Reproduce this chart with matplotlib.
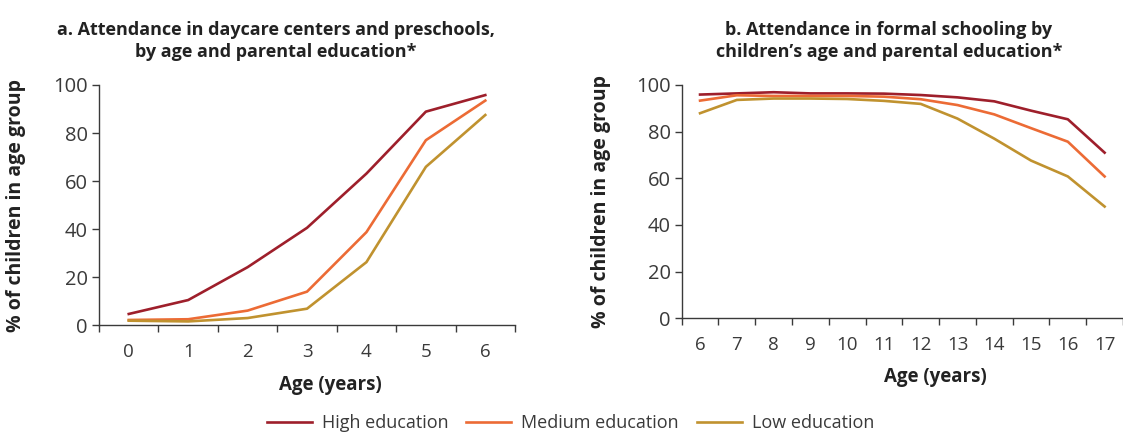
import numpy as np
import matplotlib
matplotlib.use("Agg")
import matplotlib.pyplot as plt
from matplotlib.lines import Line2D

plt.rcParams['font.family'] = ['Open Sans', 'DejaVu Sans']

# Panel a: daycare / preschool attendance (ages 0-6)
ages_a = ['0', '1', '2', '3', '4', '5', '6']
high_a = [4.6, 10.4, 24.1, 40.5, 63.1, 88.9, 95.8]
med_a = [2.1, 2.4, 6.0, 13.9, 38.7, 77.0, 93.5]
low_a = [1.8, 1.5, 2.9, 6.8, 26.2, 65.9, 87.5]

# Panel b: formal schooling attendance (ages 6-17)
ages_b = ['6', '7', '8', '9', '10', '11', '12', '13', '14', '15', '16', '17']
high_b = [95.9, 96.4, 96.9, 96.4, 96.4, 96.3, 95.7, 94.7, 93.0, 89.0, 85.3, 71.0]
med_b = [93.3, 95.6, 95.3, 95.3, 95.3, 95.0, 93.9, 91.4, 87.4, 81.5, 75.7, 60.8]
low_b = [87.9, 93.6, 94.2, 94.2, 94.0, 93.2, 91.9, 85.6, 77.0, 67.6, 60.8, 47.9]

series_names = ['High education', 'Medium education', 'Low education']
colors = ['#9e1f2b', '#ec6b35', '#c0922f']

txt = '#3a3a3a'
dark = '#222222'

fig = plt.figure(figsize=(11.23, 4.33), dpi=100)
ax1 = fig.add_axes([0.0882, 0.2494, 0.3704, 0.5543])
ax2 = fig.add_axes([0.6070, 0.2649, 0.3930, 0.5388])


def style_axis(ax, labels, xright, label_x):
    n = len(labels)
    ax.set_xlim(-0.5, xright)
    ax.set_ylim(0, 100)
    ax.set_xticks(np.arange(n))
    ax.set_xticklabels(labels)
    ax.set_xticks(np.arange(n + 1) - 0.5, minor=True)
    ax.tick_params(axis='x', which='major', length=0, pad=13, labelsize=13.5, labelcolor=txt)
    ax.tick_params(axis='x', which='minor', length=5, width=1, color=txt, direction='out')
    ax.set_yticks([0, 20, 40, 60, 80, 100])
    ax.tick_params(axis='y', length=5, width=1, color=txt, pad=3, labelsize=14.5, labelcolor=txt)
    for s in ['top', 'right']:
        ax.spines[s].set_visible(False)
    for s in ['left', 'bottom']:
        ax.spines[s].set_color(txt)
        ax.spines[s].set_linewidth(1)
    ax.set_xlabel('Age (years)', fontsize=13.5, fontweight='bold', color=dark)
    ax.xaxis.set_label_coords(label_x, -0.21)
    ax.set_ylabel('% of children in age group', fontsize=14, fontweight='bold', color=dark)


# panel a
x_a = np.arange(len(ages_a))
for vals, c in zip([high_a, med_a, low_a], colors):
    ax1.plot(x_a, vals, color=c, lw=1.9, clip_on=False)
style_axis(ax1, ages_a, 6.5, 0.555)
ax1.yaxis.set_label_coords(-0.175, 0.5)

# panel b
x_b = np.arange(len(ages_b))
for vals, c in zip([high_b, med_b, low_b], colors):
    ax2.plot(x_b, vals, color=c, lw=1.9, clip_on=False)
style_axis(ax2, ages_b, 11.33, 0.575)
ax2.yaxis.set_label_coords(-0.16, 0.5)

fig.text(0.2457, 0.905, 'a. Attendance in daycare centers and preschools,\nby age and parental education*',
         ha='center', va='center', fontsize=13, fontweight='bold', color=dark, linespacing=1.25)
fig.text(0.7916, 0.905, 'b. Attendance in formal schooling by\nchildren\u2019s age and parental education*',
         ha='center', va='center', fontsize=13, fontweight='bold', color=dark, linespacing=1.25)

handles = [Line2D([0], [0], color=c, lw=1.9) for c in colors]
leg = fig.legend(handles, series_names, loc='center', bbox_to_anchor=(0.508, 0.022),
                 ncol=3, frameon=False, fontsize=13, handlelength=2.5, handletextpad=0.55,
                 columnspacing=1.0, borderaxespad=0)
for t in leg.get_texts():
    t.set_color(txt)

fig.savefig('out.png', dpi=100)
